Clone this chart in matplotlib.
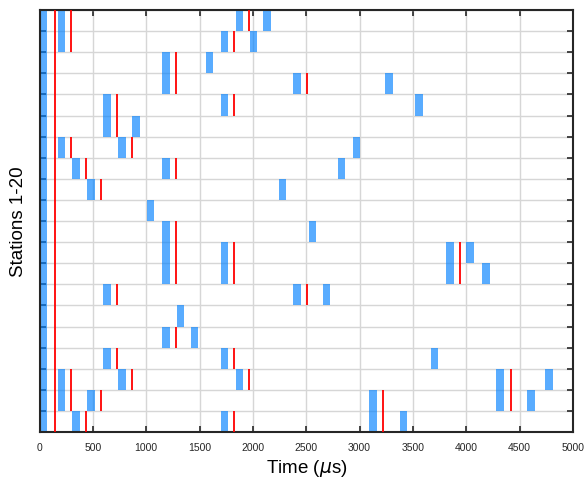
import numpy as np
import matplotlib
matplotlib.use("Agg")
import matplotlib.pyplot as plt

plt.rcParams['font.family'] = ['Liberation Sans', 'DejaVu Sans']

# start times (us) of each transmission, per station row (top row first)
tx_starts = [
    [0, 171, 1839, 2098],
    [0, 171, 1702, 1971],
    [0, 1151, 1561],
    [0, 1151, 2379, 3242],
    [0, 598, 1702, 3523],
    [0, 598, 870],
    [0, 171, 739, 2939],
    [0, 307, 1151, 2799],
    [0, 448, 2242],
    [0, 1008],
    [0, 1151, 2526],
    [0, 1151, 1702, 3814, 4001],
    [0, 1151, 1702, 3814, 4151],
    [0, 598, 2379, 2658],
    [0, 1289],
    [0, 1151, 1420],
    [0, 598, 1702, 3670],
    [0, 171, 739, 1839, 4282, 4742],
    [0, 171, 448, 3092, 4282, 4573],
    [0, 307, 1702, 3092, 3380],
]
# collision marks (us), per station row
collisions = [
    [145, 295, 1967],
    [145, 295, 1826],
    [145, 1277],
    [145, 1277, 2505],
    [145, 724, 1826],
    [145, 724],
    [145, 295, 864],
    [145, 433, 1277],
    [145, 574],
    [145],
    [145, 1277],
    [145, 1277, 1826, 3942],
    [145, 1277, 1826, 3942],
    [145, 724, 2505],
    [145],
    [145, 1277],
    [145, 724, 1826],
    [145, 295, 864, 1967, 4417],
    [145, 295, 574, 3217, 4417],
    [145, 433, 1826, 3217],
]
tx_dur = 68
x_ticks = [0, 500, 1000, 1500, 2000, 2500, 3000, 3500, 4000, 4500, 5000]

fig = plt.figure(figsize=(5.87, 4.85), dpi=100)
ax = fig.add_axes([0.0673, 0.1072, 0.9089, 0.8701])

n = len(tx_starts)
for row in range(n):
    for t in tx_starts[row]:
        ax.add_patch(plt.Rectangle((t, row), tx_dur, 1, facecolor=(0, 0.5, 1),
                                   alpha=0.65, edgecolor='none', zorder=2))
    for c in collisions[row]:
        ax.plot([c, c], [row, row + 1], color='#FF0000', lw=1.3, zorder=3,
                solid_capstyle='butt')

ax.set_xlim(0, 5000)
ax.set_ylim(n, 0)
ax.set_xticks(x_ticks)
ax.set_yticks(np.arange(0, n + 1))
ax.set_yticklabels([])
ax.grid(True, color='#d6d6d6', lw=1, zorder=0)
ax.set_axisbelow(True)
ax.tick_params(direction='in', top=True, right=True, length=4.5, width=1.2,
               labelsize=7.5, colors='#262626', pad=7)
for s in ax.spines.values():
    s.set_linewidth(1.5)
    s.set_color('#262626')

ax.set_xlabel(r'Time ($\mu$s)', fontsize=13.5, labelpad=4)
ax.set_ylabel('Stations 1-20', fontsize=13.5, labelpad=2)

fig.savefig('out.png', dpi=100)
